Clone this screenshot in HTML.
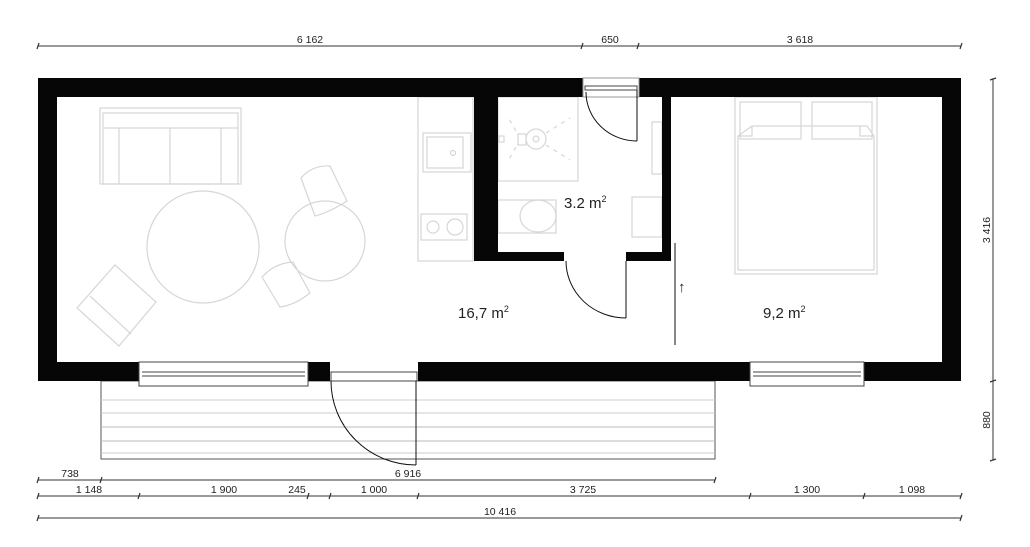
<!DOCTYPE html>
<html><head><meta charset="utf-8"><style>
html,body{margin:0;padding:0;background:#fff;width:1030px;height:547px;overflow:hidden}
svg{display:block}
text{font-family:"Liberation Sans",sans-serif;fill:#222}
</style></head><body>
<svg width="1030" height="547" viewBox="0 0 1030 547" xmlns="http://www.w3.org/2000/svg">
<!-- furniture (light gray) -->
<g fill="none" stroke="#d6d6d6" stroke-width="1.2">
  <rect x="100" y="108" width="141" height="76"/>
  <rect x="103" y="113" width="135" height="71"/>
  <line x1="103" y1="128" x2="238" y2="128"/>
  <line x1="119" y1="128" x2="119" y2="184"/>
  <line x1="170" y1="128" x2="170" y2="184"/>
  <line x1="221" y1="128" x2="221" y2="184"/>
  <circle cx="203" cy="247" r="56"/>
  <circle cx="325" cy="241" r="40"/>
  <path d="M301,178 Q312,165 330,166 L347,201 Q330,212 315,216 Z"/>
  <path d="M262,277 Q275,263 293,262 L310,293 Q295,305 280,307 Z"/>
  <path d="M115,265 L156,302 L119,346 L77,308 Z"/>
  <line x1="90" y1="296" x2="131" y2="334"/>
  <rect x="418" y="97" width="55" height="164"/>
  <rect x="423" y="133" width="48" height="39"/>
  <rect x="427" y="137" width="36" height="31"/>
  <circle cx="453" cy="153" r="2.5"/>
  <rect x="421" y="214" width="46" height="26"/>
  <circle cx="433" cy="227" r="6"/>
  <circle cx="455" cy="227" r="8"/>
  <rect x="498" y="97" width="80" height="84"/>
  <circle cx="536" cy="139" r="10"/>
  <circle cx="536" cy="139" r="3"/>
  <rect x="518" y="134" width="8" height="11"/>
  <rect x="499" y="136" width="5" height="6"/>
  <g stroke-dasharray="4 5">
    <line x1="516" y1="131" x2="508" y2="117"/>
    <line x1="516" y1="147" x2="508" y2="161"/>
    <line x1="546" y1="133" x2="570" y2="118"/>
    <line x1="546" y1="145" x2="570" y2="160"/>
  </g>
  <rect x="498" y="200" width="58" height="33"/>
  <ellipse cx="538" cy="216" rx="18" ry="16"/>
  <rect x="652" y="122" width="10" height="52"/>
  <rect x="632" y="197" width="30" height="40"/>
  <rect x="735" y="97" width="142" height="177"/>
  <rect x="740" y="102" width="61" height="37"/>
  <rect x="812" y="102" width="60" height="37"/>
  <path d="M738,136 L738,270 L874,270 L874,136 L867,126 L752,126 Z"/>
  <path d="M738,136 L752,136 L752,126"/>
  <path d="M874,136 L860,136 L860,126"/>
</g>
<!-- deck -->
<g fill="none" stroke="#999" stroke-width="1">
  <rect x="101" y="381" width="614" height="78" stroke="#555"/>
  <line x1="101" y1="400" x2="715" y2="400" stroke="#ccc"/>
  <line x1="101" y1="413" x2="715" y2="413" stroke="#ccc"/>
  <line x1="101" y1="427" x2="715" y2="427" stroke="#bbb"/>
  <line x1="101" y1="441" x2="715" y2="441" stroke="#bbb"/>
  <line x1="101" y1="453" x2="715" y2="453" stroke="#ccc"/>
</g>
<!-- walls -->
<g fill="#060606">
  <rect x="38" y="78" width="545" height="19"/>
  <rect x="639" y="78" width="322" height="19"/>
  <rect x="38" y="78" width="19" height="303"/>
  <rect x="942" y="78" width="19" height="303"/>
  <rect x="38" y="362" width="101" height="19"/>
  <rect x="308" y="362" width="22" height="19"/>
  <rect x="418" y="362" width="332" height="19"/>
  <rect x="864" y="362" width="97" height="19"/>
  <rect x="474" y="97" width="24" height="164"/>
  <rect x="662" y="97" width="9" height="164"/>
  <rect x="474" y="252" width="90" height="9"/>
  <rect x="626" y="252" width="45" height="9"/>
</g>
<!-- windows -->
<g fill="#fff" stroke="#444" stroke-width="1">
  <rect x="583" y="78" width="56" height="19" stroke="#999"/>
  <rect x="585" y="86" width="52" height="4"/>
  <rect x="139" y="362" width="169" height="24"/>
  <line x1="142" y1="372" x2="305" y2="372"/>
  <line x1="142" y1="376" x2="305" y2="376"/>
  <rect x="331" y="372" width="86" height="9"/>
  <rect x="750" y="362" width="114" height="24"/>
  <line x1="753" y1="372" x2="861" y2="372"/>
  <line x1="753" y1="376" x2="861" y2="376"/>
</g>
<!-- doors -->
<g fill="none" stroke="#111" stroke-width="1">
  <line x1="637" y1="90" x2="637" y2="141"/>
  <path d="M586,92 A51,49 0 0 0 637,141"/>
  <line x1="626" y1="261" x2="626" y2="318"/>
  <path d="M566,261 A60,57 0 0 0 626,318"/>
  <line x1="416" y1="381" x2="416" y2="465"/>
  <path d="M331,381 A85,84 0 0 0 416,465"/>
  <line x1="675" y1="243" x2="675" y2="345"/>
</g>
<text x="678" y="292" font-size="15">↑</text>
<!-- area labels -->
<text x="564" y="208" font-size="15">3.2 m<tspan font-size="9" dy="-6">2</tspan></text>
<text x="458" y="318" font-size="15">16,7 m<tspan font-size="9" dy="-6">2</tspan></text>
<text x="763" y="318" font-size="15">9,2 m<tspan font-size="9" dy="-6">2</tspan></text>
<!-- dimension lines -->
<g stroke="#333" stroke-width="1" fill="none">
  <line x1="38" y1="46" x2="961" y2="46"/>
  <line x1="38" y1="480" x2="715" y2="480"/>
  <line x1="38" y1="496" x2="961" y2="496"/>
  <line x1="38" y1="518" x2="961" y2="518"/>
  <line x1="993" y1="79" x2="993" y2="460"/>
  <g stroke-width="1.2">
    <path d="M37,49 L39,43 M581,49 L583,43 M637,49 L639,43 M960,49 L962,43"/>
    <path d="M37,483 L39,477 M100,483 L102,477 M714,483 L716,477"/>
    <path d="M37,499 L39,493 M138,499 L140,493 M307,499 L309,493 M329,499 L331,493 M417,499 L419,493 M749,499 L751,493 M863,499 L865,493 M960,499 L962,493"/>
    <path d="M37,521 L39,515 M960,521 L962,515"/>
    <path d="M990,80 L996,78 M990,382 L996,380 M990,461 L996,459"/>
  </g>
</g>
<g font-size="10.5" text-anchor="middle">
  <text x="310" y="43">6 162</text>
  <text x="610" y="43">650</text>
  <text x="800" y="43">3 618</text>
  <text x="70" y="477">738</text>
  <text x="408" y="477">6 916</text>
  <text x="89" y="493">1 148</text>
  <text x="224" y="493">1 900</text>
  <text x="297" y="493">245</text>
  <text x="374" y="493">1 000</text>
  <text x="583" y="493">3 725</text>
  <text x="807" y="493">1 300</text>
  <text x="912" y="493">1 098</text>
  <text x="500" y="515">10 416</text>
  <text transform="translate(990,230) rotate(-90)">3 416</text>
  <text transform="translate(990,420) rotate(-90)">880</text>
</g>
</svg>
</body></html>
